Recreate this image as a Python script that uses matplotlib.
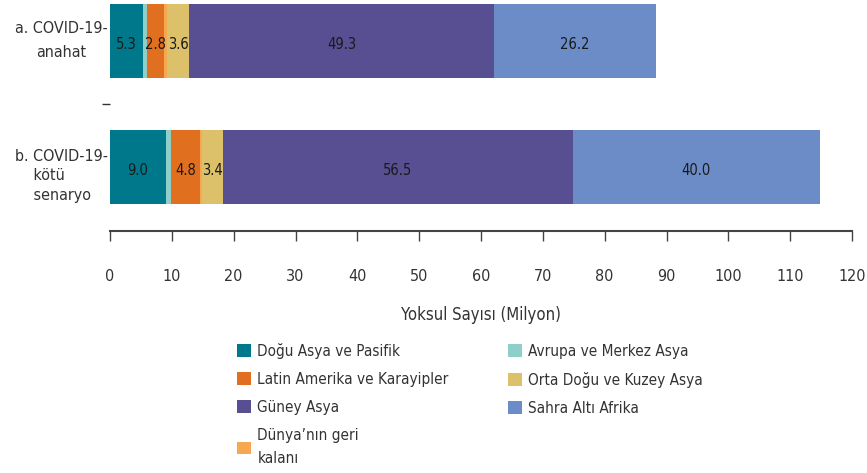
import matplotlib.pyplot as plt
from matplotlib.ticker import FixedLocator

# Poor population by region (millions), two COVID-19 scenarios
scenarios = ["a. COVID-19-\nanahat", "b. COVID-19-\n    kötü\n    senaryo"]
regions = ["Doğu Asya ve Pasifik", "Avrupa ve Merkez Asya",
           "Latin Amerika ve Karayipler", "Dünya’nın geri\nkalanı",
           "Orta Doğu ve Kuzey Asya", "Güney Asya", "Sahra Altı Afrika"]
colors = ["#00788c", "#8ecfc9", "#e0701f", "#f5a84f",
          "#dcc06a", "#584e92", "#6b8cc7"]
baseline = [5.3, 0.6, 2.8, 0.5, 3.6, 49.3, 26.2]
downside = [9.0, 0.8, 4.8, 0.3, 3.4, 56.5, 40.0]
show_label = [True, False, True, False, True, True, True]
xticks = list(range(0, 121, 10))

cond = dict(family="DejaVu Sans", stretch="condensed")

fig = plt.figure(figsize=(8.67, 4.73), dpi=100)
ax = fig.add_axes([0.1269, 0.5116, 0.8558, 0.4884])

ypos = [1, 0]
left = [0.0, 0.0]
for i, reg in enumerate(regions):
    vals = [baseline[i], downside[i]]
    ax.barh(ypos, vals, left=left, height=0.58, color=colors[i],
            edgecolor="none", label=reg)
    if show_label[i]:
        for y, l, v in zip(ypos, left, vals):
            ax.text(l + v / 2, y - 0.03, f"{v:.1f}", ha="center", va="center",
                    fontsize=10.5, color="#1a1a1a", **cond)
    left = [l + v for l, v in zip(left, vals)]

ax.set_xlim(0, 120)
ax.set_ylim(-0.508, 1.325)
ax.set_xticks(xticks)
ax.set_xticklabels([str(t) for t in xticks], fontsize=11.5,
                   color="#333333", **cond)
ax.tick_params(axis="x", direction="out", length=7, width=1,
               color="#444444", pad=20)
ax.set_xlabel("Yoksul Sayısı (Milyon)", fontsize=12,
              color="#333333", labelpad=16, **cond)

# scenario names drawn beside the bars
ax.set_yticks(ypos)
ax.set_yticklabels([])
ax.tick_params(axis="y", length=0)
ax.yaxis.set_minor_locator(FixedLocator([0.5]))
ax.tick_params(axis="y", which="minor", length=6, width=1, color="#333333")
ytrans = ax.get_yaxis_transform()
ax.text(-0.003, 1.0, scenarios[0], transform=ytrans, ha="right", va="center",
        multialignment="center", linespacing=1.75, fontsize=11.5,
        color="#333333", **cond)
ax.text(-0.003, -0.07, scenarios[1], transform=ytrans, ha="right",
        va="center", multialignment="left", linespacing=1.35, fontsize=11.5,
        color="#333333", **cond)

for s in ["top", "right", "left"]:
    ax.spines[s].set_visible(False)
ax.spines["bottom"].set_color("#444444")
ax.spines["bottom"].set_linewidth(1.5)

# legend laid out in two columns below the axis
handles, labels = ax.get_legend_handles_labels()
order = [0, 2, 5, 3, 1, 4, 6]
leg = fig.legend([handles[k] for k in order], [labels[k] for k in order],
                 ncol=2, loc="upper left", bbox_to_anchor=(0.265, 0.291),
                 frameon=False, handlelength=0.9, handleheight=0.9,
                 handletextpad=0.4, columnspacing=3.9, labelspacing=0.85,
                 borderpad=0, prop=dict(size=11, **cond),
                 labelcolor="#333333")
leg.get_texts()[3].set_linespacing(1.7)

fig.savefig("out.png", dpi=100)
